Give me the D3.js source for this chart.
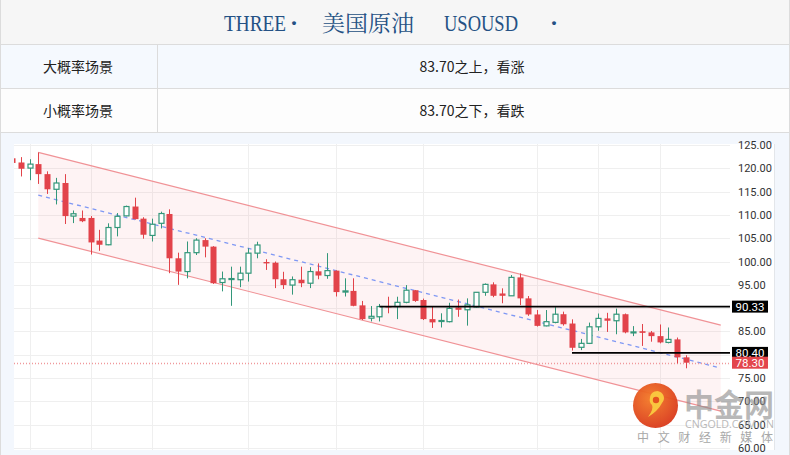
<!DOCTYPE html>
<html><head><meta charset="utf-8">
<script src="https://cdn.jsdelivr.net/npm/d3@7"></script>
<style>
html,body{margin:0;padding:0;background:#fff;}
svg{display:block;}
</style></head>
<body><svg id="c" width="790" height="455"></svg>
<script>
// ---- data ----
const titleParts = ["THREE", "·", "美国原油", "USOUSD", "·"];
const rowLabels = ["大概率场景", "小概率场景"];
const rowTexts = ["83.70之上，看涨", "83.70之下，看跌"];

const open = [122.15,121.25,120.05,120.9,118.75,115.5,116.85,109.75,109.35,109.35,104.5,103.6,107.3,109.8,111.8,109.2,105.6,108.2,
110.2,100.7,97.85,101.9,104.6,103.2,95.5,96.25,96.1,97.5,101.8,99.9,99.75,96.2,94.95,96.1,95.35,97.9,97.0,98.05,93.45,93.7,
90.6,87.85,88.15,90.45,90.35,91.25,93.85,91.75,87.65,87.15,87.1,90.15,89.65,90.25,93.4,95.1,93.15,92.65,96.6,92.1,88.65,86.2,86.95,88.7,
86.7,81.6,82.45,86.0,87.8,87.3,88.7,84.75,85.05,84.8,84.0,82.65,83.3,79.45];
const high = [122.35,122.4,121.95,123.4,119.35,117.95,118.75,110.95,110.95,109.75,106.8,108.2,110.4,112.0,113.7,109.5,109.2,110.7,
111.2,101.9,104.3,105.0,105.0,103.3,97.85,98.9,98.9,102.85,104.25,100.5,100.0,97.8,96.8,98.9,98.8,99.6,101.8,98.1,96.4,96.4,
91.55,90.45,90.9,92.45,92.45,94.95,93.9,92.05,90.35,88.9,91.15,91.85,92.1,93.45,95.3,95.55,94.25,97.1,97.45,92.6,89.6,89.6,90.2,89.25,
87.6,83.4,86.9,88.85,89.0,89.9,88.85,86.15,86.6,85.1,86.5,85.85,83.7,79.9];
const low = [121.05,118.25,117.45,116.65,114.5,112.25,108.05,108.25,108.45,101.5,102.3,103.5,105.4,109.7,109.0,104.9,104.3,107.1,
97.5,95.0,96.4,101.4,100.9,95.2,93.6,90.5,94.5,95.7,100.7,98.2,94.3,94.1,92.9,94.5,94.3,96.2,96.3,92.5,92.5,90.4,
87.45,87.15,87.15,88.9,87.65,91.05,91.35,87.45,85.75,85.85,86.95,88.15,86.25,90.15,92.65,92.35,91.05,92.65,90.65,88.35,86.05,86.1,86.75,86.25,
80.9,81.0,82.3,85.15,84.9,84.4,84.6,84.0,81.9,82.8,82.45,82.45,78.15,77.1];
const close = [121.15,119.9,120.9,118.75,115.5,116.85,109.75,110.25,108.65,104.1,103.6,107.3,109.7,111.8,109.1,105.75,108.0,110.3,
100.7,97.85,101.9,104.6,103.2,95.35,96.3,96.35,97.5,101.8,103.55,99.6,96.2,94.95,96.1,95.35,97.85,97.0,98.05,93.45,93.7,90.5,
87.65,88.25,90.35,90.15,91.25,93.85,91.55,87.65,86.95,87.35,89.95,89.65,90.7,93.4,95.1,92.65,92.65,96.6,92.1,88.65,86.2,87.1,88.7,86.55,
81.5,82.45,86.0,87.8,87.3,88.7,84.8,84.9,84.7,84.0,82.65,83.3,79.45,78.3];

const yTicks = [125,120,115,110,105,100,95,90,85,80,75,70,65,60];
const gridBars = [2,9,16,27,37,47,60,67,74];

// channel: [startBar, endBar], upper/lower price at each end
const channelBars = [3, 81];
const channelUpper = [123.43, 86.37];
const channelLower = [105.04, 67.92];

// horizontal levels: [price, startBar]
const levelPrices = [90.33, 80.40];
const levelStart = [42, 64];
const lastPrice = 78.30;

// ---- layout ----
const svg = d3.select("#c");
const W = 790, H = 455;
const plot = {l:14, r:730, t:144, b:450};

// header and table
svg.append("rect").attr("x",0).attr("y",0).attr("width",W).attr("height",44).attr("fill","#f6f6f6");
svg.append("rect").attr("x",0).attr("y",44).attr("width",W).attr("height",44).attr("fill","#f5f9fe");
svg.append("rect").attr("x",0).attr("y",88).attr("width",W).attr("height",44).attr("fill","#fdfdfd");
[44.5,88.5,132.5].forEach(y=>svg.append("line").attr("x1",0).attr("x2",W).attr("y1",y).attr("y2",y).attr("stroke","#dcdcdc"));
svg.append("line").attr("x1",157.5).attr("x2",157.5).attr("y1",44).attr("y2",132).attr("stroke","#dcdcdc");
svg.append("line").attr("x1",0.5).attr("x2",0.5).attr("y1",0).attr("y2",H).attr("stroke","#dcdcdc");
svg.append("line").attr("x1",789.5).attr("x2",789.5).attr("y1",0).attr("y2",H).attr("stroke","#dcdcdc");

const titleX = [224, 290, 322, 444, 550];
const titleW = [62, 0, 92, 74, 0];
titleParts.forEach((t,i)=>{
  const el = svg.append("text").attr("x",titleX[i]).attr("y",31)
    .attr("fill","#245184")
    .style("font-family", i===2 ? "'Noto Serif CJK SC','Noto Sans CJK SC',serif" : "'Liberation Serif','DejaVu Serif',serif")
    .style("font-size", i===2 ? "22px" : (t==="·" ? "24px" : "24px"))
    .style("font-weight", t==="·" ? "bold" : "normal")
    .text(t);
  if (titleW[i]) el.attr("textLength",titleW[i]).attr("lengthAdjust","spacingAndGlyphs");
});

rowLabels.forEach((t,i)=>{
  svg.append("text").attr("x",78).attr("y",72+i*44).attr("text-anchor","middle")
    .attr("fill","#222").style("font-family","'Noto Sans CJK SC',sans-serif").style("font-size","14px").text(t);
  svg.append("text").attr("x",472).attr("y",72+i*44).attr("text-anchor","middle")
    .attr("fill","#222").style("font-family","'Noto Sans CJK SC',sans-serif").style("font-size","14px").text(rowTexts[i]);
});

// chart frame
svg.append("rect").attr("x",1).attr("y",133).attr("width",788).attr("height",322).attr("fill","#f3f7fd");
svg.append("rect").attr("x",plot.l).attr("y",plot.t).attr("width",774-plot.l).attr("height",plot.b-plot.t).attr("fill","#fff");
svg.append("line").attr("x1",774.5).attr("x2",774.5).attr("y1",plot.t).attr("y2",plot.b).attr("stroke","#e3e6ea");

// scales
const x = d3.scaleLinear().domain([0, 77]).range([12, 685.75]);
const y = d3.scaleLinear().domain([60, 125]).range([448, 145]);

svg.append("clipPath").attr("id","clip").append("rect")
  .attr("x",plot.l).attr("y",plot.t).attr("width",plot.r-plot.l).attr("height",plot.b-plot.t);
const g = svg.append("g").attr("clip-path","url(#clip)");

// gridlines
g.selectAll(".hg").data(yTicks).join("line")
  .attr("x1",plot.l).attr("x2",plot.r)
  .attr("y1",d=>Math.round(y(d))+0.5).attr("y2",d=>Math.round(y(d))+0.5)
  .attr("stroke","#efefef");
g.selectAll(".vg").data(gridBars).join("line")
  .attr("x1",d=>Math.round(x(d))+0.5).attr("x2",d=>Math.round(x(d))+0.5)
  .attr("y1",plot.t).attr("y2",plot.b)
  .attr("stroke","#efefef");

// channel
const cx0 = x(channelBars[0]), cx1 = x(channelBars[1]);
g.append("path")
  .attr("d", `M${cx0},${y(channelUpper[0])}L${cx1},${y(channelUpper[1])}L${cx1},${y(channelLower[1])}L${cx0},${y(channelLower[0])}Z`)
  .attr("fill","rgba(240,80,95,0.065)");
g.append("line").attr("x1",cx0).attr("x2",cx1).attr("y1",y(channelUpper[0])).attr("y2",y(channelUpper[1]))
  .attr("stroke","#f09296").attr("stroke-width",1.2);
g.append("line").attr("x1",cx0).attr("x2",cx1).attr("y1",y(channelLower[0])).attr("y2",y(channelLower[1]))
  .attr("stroke","#f09296").attr("stroke-width",1.2);
g.append("line").attr("x1",cx0).attr("x2",cx1)
  .attr("y1",y((channelUpper[0]+channelLower[0])/2)).attr("y2",y((channelUpper[1]+channelLower[1])/2))
  .attr("stroke","#7f98f4").attr("stroke-width",1.3).attr("stroke-dasharray","4,4");

// last price dotted line
g.append("line").attr("x1",plot.l).attr("x2",plot.r)
  .attr("y1",Math.round(y(lastPrice))+0.5).attr("y2",Math.round(y(lastPrice))+0.5)
  .attr("stroke","#f0999b").attr("stroke-width",1.3).attr("stroke-dasharray","1,2");

// candles
const green = "#33977a", red = "#e2434a";
const bars = open.map((o,i)=>({i,o,h:high[i],l:low[i],c:close[i],up:close[i]>=o}));
const cg = g.append("g");
bars.forEach(b=>{
  const cx = Math.round(x(b.i))+0.5;
  const col = b.up ? green : red;
  cg.append("line").attr("x1",cx).attr("x2",cx)
    .attr("y1",y(Math.max(b.h,b.o,b.c))).attr("y2",y(Math.min(b.l,b.o,b.c)))
    .attr("stroke",col).attr("stroke-width",1);
  const yt = y(Math.max(b.o,b.c)), yb = y(Math.min(b.o,b.c));
  if (b.up) {
    cg.append("rect").attr("x",cx-2.5).attr("y",yt).attr("width",5).attr("height",Math.max(1,yb-yt))
      .attr("fill","#fff").attr("stroke",col).attr("stroke-width",1.2);
  } else {
    cg.append("rect").attr("x",cx-3).attr("y",yt).attr("width",6).attr("height",Math.max(1.2,yb-yt))
      .attr("fill",col);
  }
});

// horizontal levels
levelPrices.forEach((p,i)=>{
  g.append("line").attr("x1",x(levelStart[i])).attr("x2",plot.r)
    .attr("y1",y(p)).attr("y2",y(p)).attr("stroke","#000").attr("stroke-width",1.6);
});

// y axis
const ax = svg.append("g").attr("transform",`translate(${plot.r},0)`)
  .call(d3.axisRight(y).tickValues(yTicks).tickFormat(d=>d.toFixed(2)).tickSize(0).tickPadding(8));
ax.select(".domain").remove();
ax.selectAll("text").attr("fill","#333").style("font-family","Roboto, 'Noto Sans', sans-serif").style("font-size","11px");

// price labels
const labels = levelPrices.map(p=>({p, bg:"#000"})).concat([{p:lastPrice, bg:"#e3464c"}]);
labels.forEach(d=>{
  const yy = y(d.p);
  svg.append("rect").attr("x",732).attr("y",yy-6).attr("width",36).attr("height",12).attr("fill",d.bg);
  svg.append("text").attr("x",750).attr("y",yy+4.2).attr("text-anchor","middle").attr("fill","#fff")
    .style("font-family","Roboto, 'Noto Sans', sans-serif").style("font-size","11.5px").text(d.p.toFixed(2));
});

// watermark
const wm = svg.append("g");
const grad = svg.append("defs").append("radialGradient").attr("id","lg").attr("cx","40%").attr("cy","35%").attr("r","70%");
grad.append("stop").attr("offset","0%").attr("stop-color","#f47a26");
grad.append("stop").attr("offset","100%").attr("stop-color","#d8361a");
wm.append("circle").attr("cx",655.5).attr("cy",405.5).attr("r",22.5).attr("fill","url(#lg)").attr("opacity",0.95);
wm.append("path").attr("d","M650,398 a7,7 0 1,1 12,5 q-4,8 -14,14 q6,-8 4,-12 a7,7 0 0,1 -2,-7 z")
  .attr("fill","#f9c63f");
wm.append("circle").attr("cx",656).attr("cy",400).attr("r",3.2).attr("fill","#e4521f");
wm.append("text").attr("x",684).attr("y",416).attr("fill","#8a8a8a").attr("opacity",0.6)
  .style("font-family","'Noto Sans CJK SC',sans-serif").style("font-size","31px").style("font-weight","bold")
  .attr("textLength",90).attr("lengthAdjust","spacingAndGlyphs").text("中金网");
wm.append("text").attr("x",685).attr("y",427.5).attr("fill","#a8a8a8").attr("opacity",0.8)
  .style("font-family","'Open Sans',sans-serif").style("font-size","10px")
  .attr("textLength",89).attr("lengthAdjust","spacingAndGlyphs").text("CNGOLD.COM.CN");
wm.append("text").attr("x",637).attr("y",442).attr("fill","#999").attr("opacity",0.85)
  .style("font-family","'Noto Sans CJK SC',sans-serif").style("font-size","12px")
  .attr("textLength",136).attr("lengthAdjust","spacing").text("中文财经新媒体");
</script>
</body></html>
